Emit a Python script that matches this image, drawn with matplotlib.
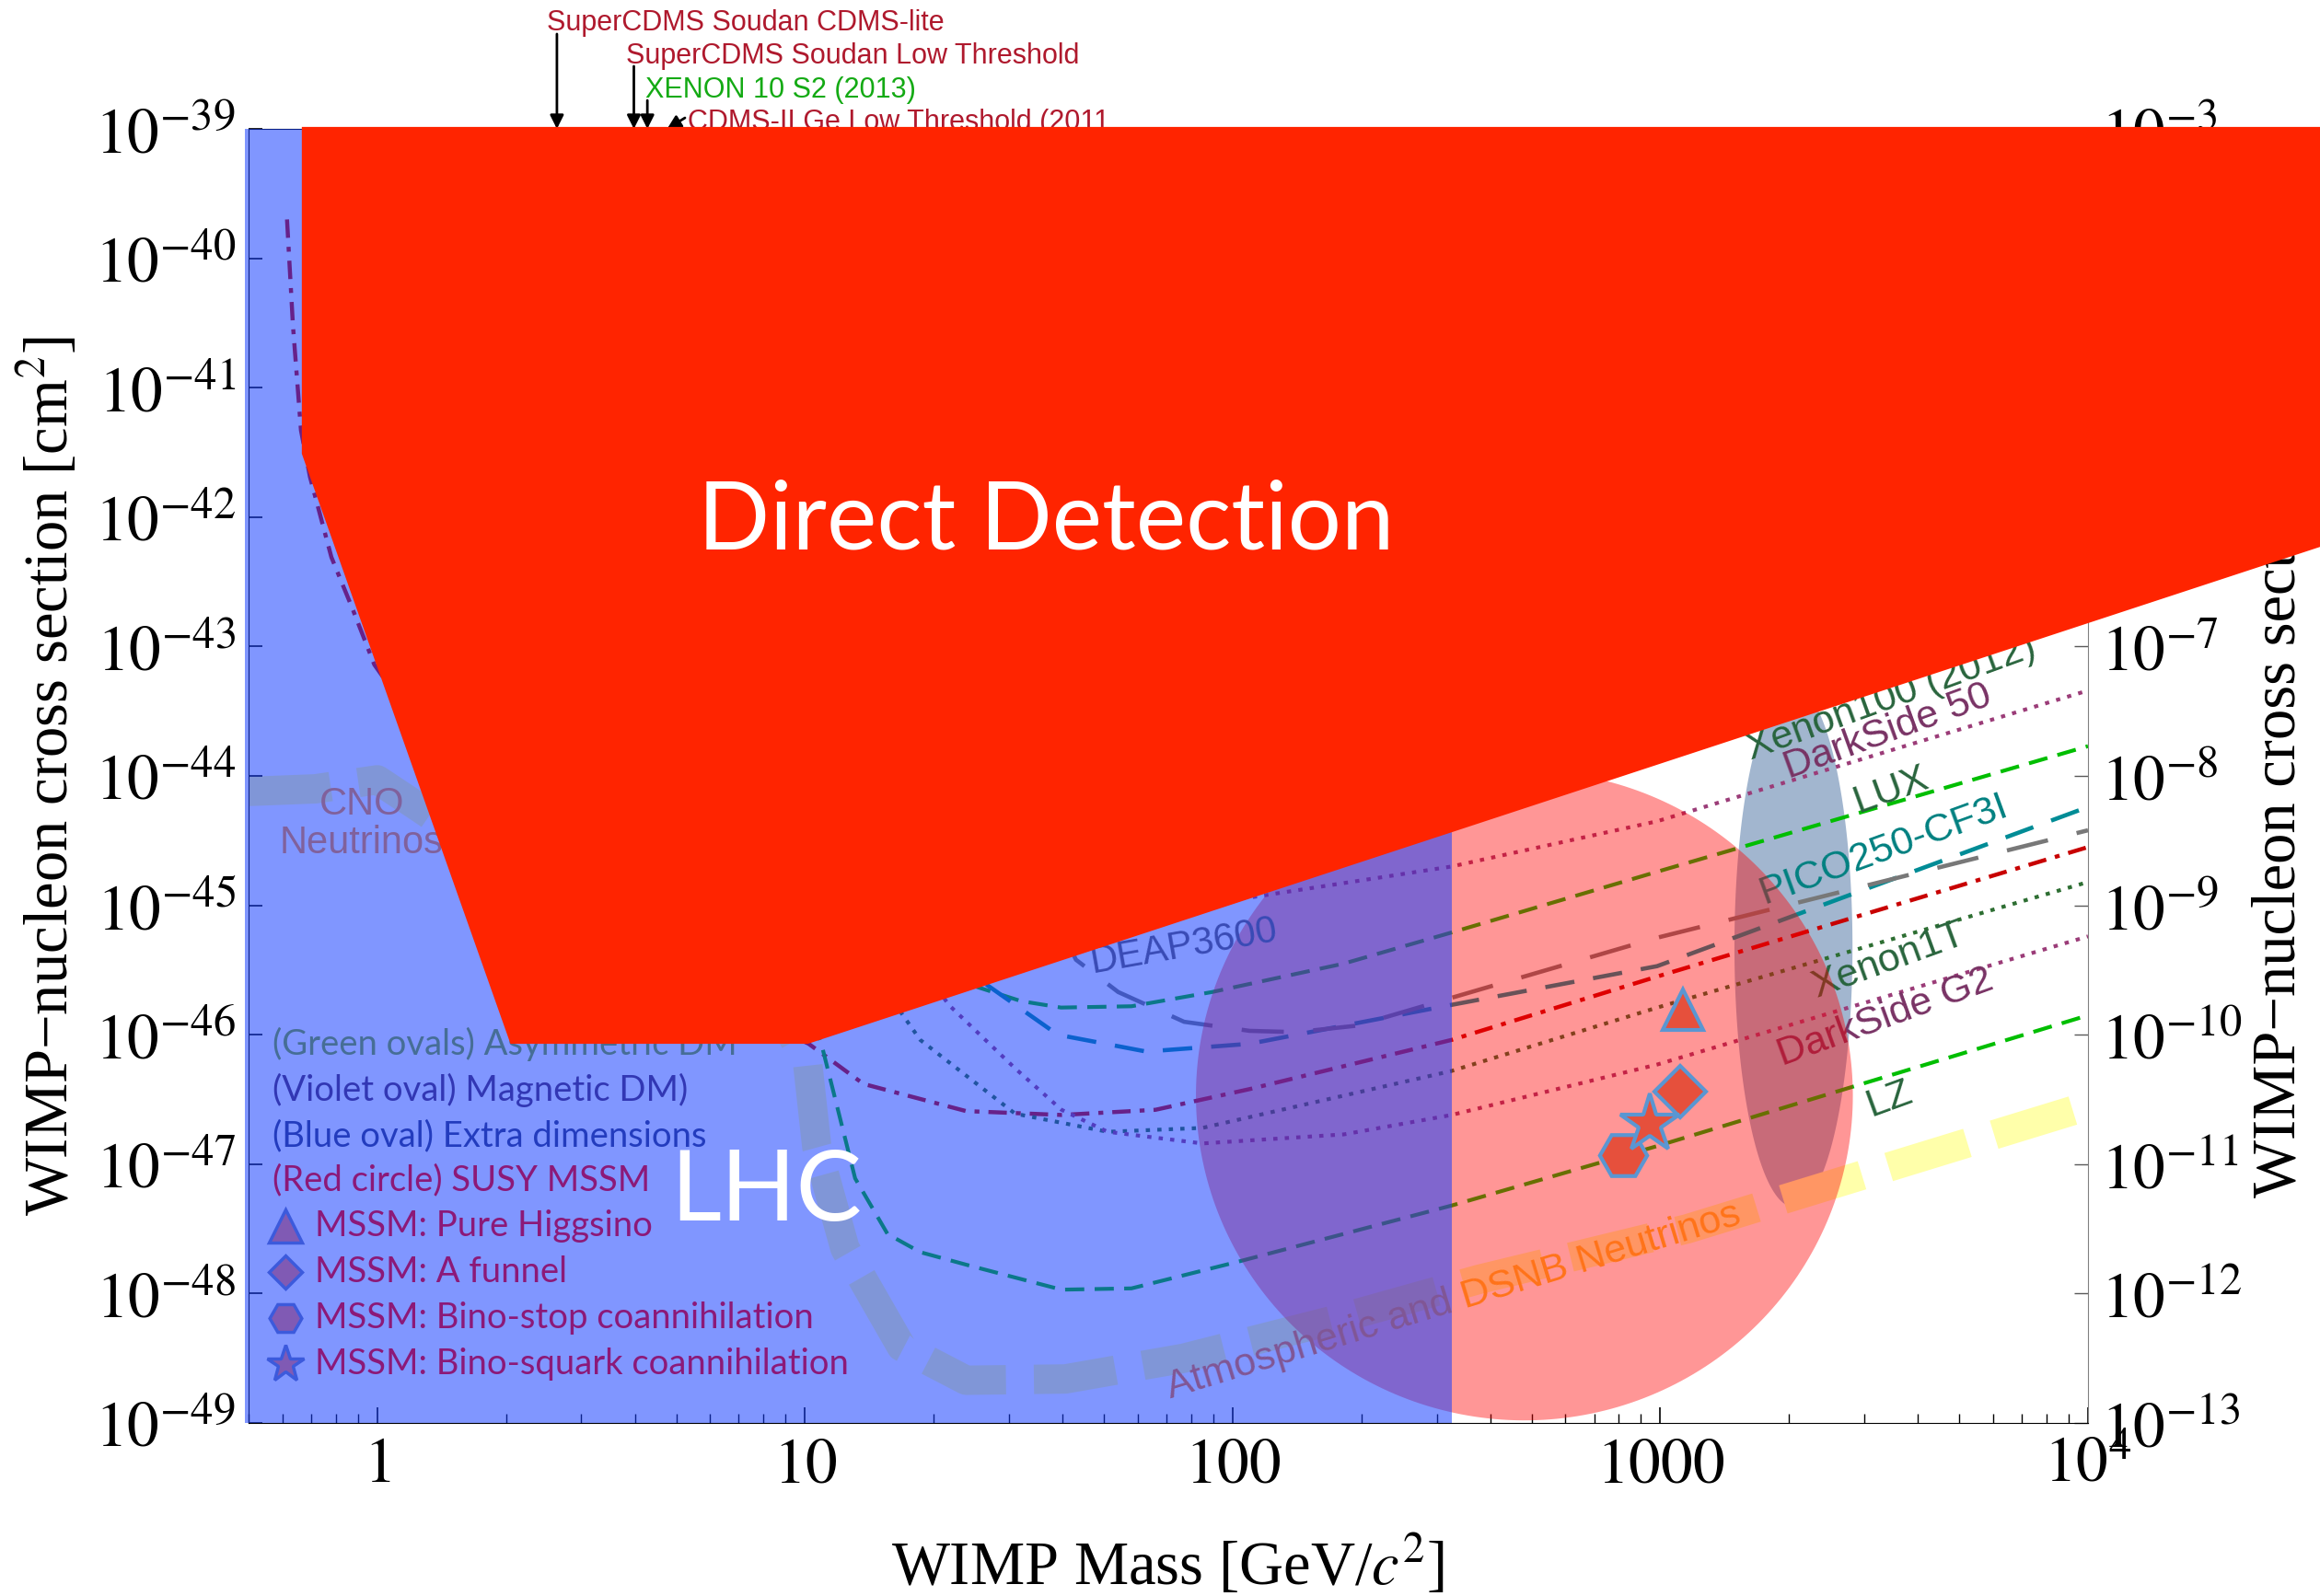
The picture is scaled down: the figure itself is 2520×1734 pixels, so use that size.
import numpy as np
import matplotlib.pyplot as plt
from matplotlib.ticker import FixedLocator, NullLocator, LogLocator, FuncFormatter
from matplotlib.transforms import blended_transform_factory

plt.rcParams['mathtext.fontset'] = 'stix'

# curves: WIMP mass [GeV], log10 of SI cross section [cm^2]
lux_mass = [22, 25.2, 32, 39.7, 58, 89.5, 182, 325, 984, 10000]
lux_sig = [-45.45, -45.63, -45.74, -45.79, -45.78, -45.67, -45.45, -45.21, -44.74, -43.77]

pico_mass = [22, 26.5, 39, 62.8, 109.6, 324, 983, 10000]
pico_sig = [-45.35, -45.61, -46.0, -46.13, -46.07, -45.77, -45.47, -44.24]

deap_mass = [40, 43, 54, 77, 109.6, 141, 195, 370, 984, 10000]
deap_sig = [-45.2, -45.42, -45.67, -45.90, -45.97, -45.98, -45.93, -45.66, -45.25, -44.42]

dd_mass = [0.615, 0.635, 0.663, 0.696, 0.781, 0.873, 0.984, 1.5, 3, 6, 10.2,
           13.7, 23.8, 39.8, 66, 109.6, 325, 984, 10000]
dd_sig = [-39.70, -40.52, -41.33, -41.69, -42.31, -42.70, -43.14, -44.0, -45.0, -45.7, -46.07,
          -46.38, -46.59, -46.62, -46.58, -46.42, -46.04, -45.55, -44.55]

ds50_mass = [60, 109.6, 325, 984, 10000]
ds50_sig = [-44.95, -44.94, -44.70, -44.35, -43.34]

xe1t_mass = [15, 18.6, 31, 51, 85, 325, 984, 10000]
xe1t_sig = [-45.6, -46.04, -46.61, -46.75, -46.72, -46.28, -45.79, -44.82]

dsg2_mass = [19, 21.7, 31, 39.8, 51, 85, 182, 325, 984, 10000]
dsg2_sig = [-45.5, -45.77, -46.26, -46.58, -46.75, -46.84, -46.77, -46.62, -46.23, -45.24]

lz_mass = [10.5, 11, 13.1, 15.6, 18.6, 24, 39.8, 58, 104, 325, 984, 10000]
lz_sig = [-45.9, -46.11, -47.11, -47.54, -47.68, -47.78, -47.97, -47.96, -47.75, -47.32, -46.86, -45.85]

# neutrino floor (CNO -> atmospheric/DSNB)
nu_mass = [0.5, 0.716, 1.0, 1.26, 1.8, 3, 5, 8, 10.15, 10.66, 12.4, 16.8, 23.8, 40.6,
           76.8, 170, 377, 1156, 10000]
nu_sig = [-44.12, -44.10, -44.03, -44.25, -44.6, -44.9, -45.2, -45.6, -46.23, -46.87, -47.65,
          -48.41, -48.67, -48.66, -48.50, -48.21, -47.89, -47.50, -46.55]

# direct detection excluded region outline
dd_reg_mass = [0.666, 34900, 34900, 10.16, 2.048, 0.666]
dd_reg_sig = [-38.985, -38.985, -42.23, -46.07, -46.07, -41.51]

lhc_mass_max = 325

# model regions: centre (log10 mass, log10 sigma), half widths in decades
susy_circle = (np.log10(481), -46.47, 0.768, 2.51)
xdim_oval = (np.log10(2048), -45.32, 0.138, 2.01)

# MSSM benchmark points
mssm_mass = [1127, 1114, 819, 946]
mssm_sig = [-45.81, -46.44, -46.93, -46.69]
mssm_marker = ['^', 'D', 'H', '*']
mssm_size = [32, 29, 37, 48]
mssm_names = ["MSSM: Pure Higgsino", "MSSM: A funnel",
              "MSSM: Bino-stop coannihilation", "MSSM: Bino-squark coannihilation"]
legend_size = [26, 18, 25, 30]

model_names = ["(Green ovals) Asymmetric DM", "(Violet oval) Magnetic DM)",
               "(Blue oval) Extra dimensions", "(Red circle) SUSY MSSM"]
model_colors = ['#466E96', '#3237B4', '#233CBE', '#8C1978']

top_labels = ["SuperCDMS Soudan CDMS-lite", "SuperCDMS Soudan Low Threshold",
              "XENON 10 S2 (2013)", "CDMS-II Ge Low Threshold (2011"]
top_colors = ['#AF192D', '#AF192D', '#14AA14', '#AF192D']
top_tip_mass = [2.63, 3.98, 4.28, 4.76]

x_ticks = [1, 10, 100, 1000, 10000]
x_ticklabels = [r'$1$', r'$10$', r'$100$', r'$1000$', r'$10^4$']


def sig(v):
    return 10.0 ** np.asarray(v)


def ellipse(ax, spec, **kw):
    cx, cy, rx, ry = spec
    t = np.linspace(0, 2 * np.pi, 300)
    ax.fill(10 ** (cx + rx * np.cos(t)), 10 ** (cy + ry * np.sin(t)), lw=0, **kw)


fig = plt.figure(figsize=(25.2, 17.34), dpi=100)
ax = fig.add_axes([0.10714, 0.10842, 0.79286, 0.81084])
ax.set_xscale('log')
ax.set_yscale('log')
ax.set_xlim(0.5, 1e4)
ax.set_ylim(1e-49, 1e-39)

ax2 = ax.twinx()
ax2.set_yscale('log')
ax2.set_ylim(1e-13, 1e-3)
ax.set_zorder(ax2.get_zorder() + 1)
ax.patch.set_visible(False)
for s in ax2.spines.values():
    s.set_visible(False)

dec_fmt = FuncFormatter(lambda v, p: r'$10^{%d}$' % int(round(np.log10(v))))

ax.set_xticks(x_ticks, x_ticklabels)
ax.xaxis.set_minor_locator(LogLocator(base=10, subs=np.arange(2, 10)))
ax.yaxis.set_major_locator(FixedLocator([10.0 ** k for k in range(-49, -38)]))
ax.yaxis.set_minor_locator(NullLocator())
ax.yaxis.set_major_formatter(dec_fmt)
ax.tick_params(axis='both', which='both', direction='in', top=False, right=False, labelsize=50)
ax.tick_params(axis='x', which='major', length=12, width=1.2, pad=8)
ax.tick_params(axis='x', which='minor', length=7, width=1.0)
ax.tick_params(axis='y', which='major', length=11, width=1.2, pad=10)

ax2.yaxis.set_major_locator(FixedLocator([10.0 ** k for k in range(-13, -2)]))
ax2.yaxis.set_minor_locator(NullLocator())
ax2.yaxis.set_major_formatter(dec_fmt)
ax2.tick_params(axis='y', which='major', direction='in', length=11, width=1.0,
                color='0.35', labelsize=50, pad=10)

ax.spines['right'].set_color('0.5')
ax.spines['bottom'].set_zorder(4.5)

serif = 'Liberation Serif'
ax.set_ylabel('WIMP\u2212nucleon cross section [cm$^2$]', fontsize=48, family=serif)
ax.yaxis.set_label_coords(-0.091, 0.5)
ax.set_xlabel('WIMP Mass [GeV/$c^2$]', fontsize=48, family=serif)
ax.xaxis.set_label_coords(0.5, -0.085)
ax2.set_ylabel('WIMP\u2212nucleon cross section [pb]', fontsize=48, family=serif)
ax2.yaxis.set_label_coords(1.089, 0.5)

# extra dimensions oval, under everything
ellipse(ax, xdim_oval, color=(70 / 255, 110 / 255, 160 / 255), alpha=0.5, zorder=1)

# neutrino floor band
ax.plot(nu_mass, sig(nu_sig), color=(1, 1, 0.667), lw=23, dashes=(2.8, 0.95),
        dash_capstyle='butt', zorder=1.5)

lw = 3.0
dots = (1.1, 1.9)
ax.plot(ds50_mass, sig(ds50_sig), color='#9B3C78', lw=lw, dashes=dots, zorder=2)
ax.plot(lux_mass, sig(lux_sig), color='#00BE00', lw=lw, dashes=(5, 2.7), zorder=2)
ax.plot(pico_mass, sig(pico_sig), color='#008C96', lw=lw + 0.3, dashes=(7, 4.5), zorder=2)
ax.plot(deap_mass, sig(deap_sig), color='#787878', lw=lw + 0.3, dashes=(10, 7), zorder=2)
ax.plot(dd_mass, sig(dd_sig), color='#C80000', lw=lw + 0.2, dashes=(4.5, 2.2, 1.2, 2.2), zorder=2)
ax.plot(xe1t_mass, sig(xe1t_sig), color='#2D6E32', lw=lw, dashes=dots, zorder=2)
ax.plot(dsg2_mass, sig(dsg2_sig), color='#9B3C78', lw=lw, dashes=dots, zorder=2)
ax.plot(lz_mass, sig(lz_sig), color='#00BE00', lw=lw, dashes=(5, 2.7), zorder=2)

# experiment labels along the curves
sans = 'Liberation Sans'
exp_labels = [("Xenon100 (2012)", 3467, -43.40, '#28643C'),
              ("DarkSide 50", 3410, -43.66, '#783264'),
              ("LUX", 3467, -44.11, '#28643C'),
              ("PICO250-CF3I", 3330, -44.57, '#008080'),
              ("Xenon1T", 3410, -45.43, '#28643C'),
              ("DarkSide G2", 3360, -45.87, '#783264'),
              ("LZ", 3440, -46.50, '#28643C')]
for txt, m, s, c in exp_labels:
    ax.text(m, 10 ** s, txt, color=c, fontsize=31, family=sans, rotation=20,
            rotation_mode='anchor', ha='center', va='center', zorder=2.2)

# SUSY MSSM circle
ellipse(ax, susy_circle, color=(1, 0, 0), alpha=0.41, zorder=3)

ax.text(328, 10 ** -48.06, "Atmospheric and DSNB Neutrinos", color='#FF7319', fontsize=31,
        family=sans, rotation=17, rotation_mode='anchor', ha='center', va='center', zorder=3.2)
ax.text(0.92, 10 ** -44.37, "CNO\nNeutrinos", color='#FF8C28', fontsize=30, family=sans,
        ha='center', va='center', linespacing=1.05, zorder=3.2)
ax.text(76.9, 10 ** -45.32, "DEAP3600", color='#645A5F', fontsize=30, family=sans,
        rotation=10, rotation_mode='anchor', ha='center', va='center', zorder=3.3)

# LHC reach
ax.axvspan(0.49, lhc_mass_max, ymin=0, ymax=1, color=(21 / 255, 62 / 255, 1), alpha=0.543,
           lw=0, zorder=4, clip_on=False)
ax.text(8.13, 10 ** -47.22, "LHC", color='white', fontsize=77, family='Lato',
        ha='center', va='center', zorder=6)

# MSSM points
for m, s, mk, ms in zip(mssm_mass, mssm_sig, mssm_marker, mssm_size):
    ax.plot([m], [10 ** s], marker=mk, ms=ms, mfc='#E6503C', mec='#5A96D2', mew=3,
            ls='none', zorder=5)

# legend block
leg_y = [0.2926, 0.257, 0.2217, 0.1874, 0.152, 0.1166, 0.0811, 0.0457]
for i, (name, c) in enumerate(zip(model_names, model_colors)):
    ax.text(0.0129, leg_y[i], name, color=c, fontsize=27.5, family='Lato',
            transform=ax.transAxes, ha='left', va='center', zorder=5)
for j, (name, mk, ms) in enumerate(zip(mssm_names, mssm_marker, legend_size)):
    y = leg_y[4 + j]
    ax.plot([0.0201], [y], marker=mk, ms=ms, mfc='#805AB4', mec='#3C5ADC', mew=2.5,
            transform=ax.transAxes, ls='none', zorder=5, clip_on=False)
    ax.text(0.0362, y, name, color='#8C1978', fontsize=27.5, family='Lato',
            transform=ax.transAxes, ha='left', va='center', zorder=5)

# low-threshold results marked above the frame
bt = blended_transform_factory(ax.transData, ax.transAxes)
text_pos = [(2.49, 1.0761), (3.81, 1.0505), (4.23, 1.0242), (5.33, 0.999)]
tail_pos = [(2.63, 1.0733), (3.98, 1.0484), (4.28, 1.022), (5.24, 1.0085)]
for lab, c, tip, tp, tl in zip(top_labels, top_colors, top_tip_mass, text_pos, tail_pos):
    ax.text(tp[0], tp[1], lab, color=c, fontsize=22, family=sans, transform=bt,
            ha='left', va='baseline', clip_on=False, zorder=6)
    ax.annotate('', xy=(tip, 1.0), xycoords=bt, xytext=tl, textcoords=bt,
                arrowprops=dict(arrowstyle='-|>', color='k', lw=2, mutation_scale=22,
                                shrinkA=0, shrinkB=0),
                annotation_clip=False, zorder=6)

# direct detection excluded region
ax.fill(dd_reg_mass, sig(dd_reg_sig), color='#FF2400', lw=0, zorder=10, clip_on=False)
ax.text(36.6, 10 ** -42.04, "Direct Detection", color='white', fontsize=74, family='Lato',
        ha='center', va='center', zorder=11)

fig.savefig('out.png', dpi=100)
